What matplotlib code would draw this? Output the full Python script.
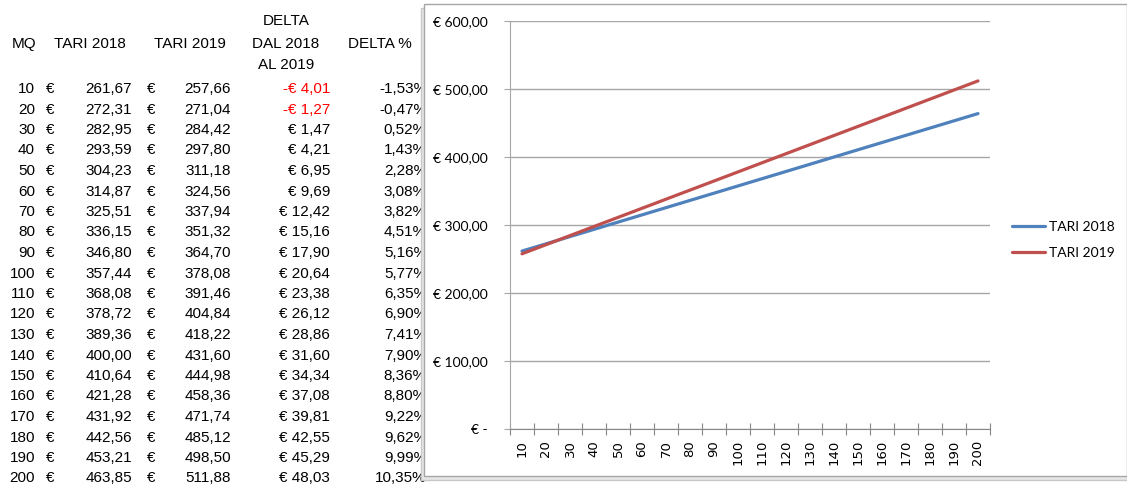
import matplotlib.pyplot as plt
from matplotlib.patches import Rectangle
import numpy as np

# Data
mq = [10, 20, 30, 40, 50, 60, 70, 80, 90, 100,
      110, 120, 130, 140, 150, 160, 170, 180, 190, 200]
tari_2018 = [261.67, 272.31, 282.95, 293.59, 304.23, 314.87, 325.51, 336.15, 346.80, 357.44,
             368.08, 378.72, 389.36, 400.00, 410.64, 421.28, 431.92, 442.56, 453.21, 463.85]
tari_2019 = [257.66, 271.04, 284.42, 297.80, 311.18, 324.56, 337.94, 351.32, 364.70, 378.08,
             391.46, 404.84, 418.22, 431.60, 444.98, 458.36, 471.74, 485.12, 498.50, 511.88]
delta = [-4.01, -1.27, 1.47, 4.21, 6.95, 9.69, 12.42, 15.16, 17.90, 20.64,
         23.38, 26.12, 28.86, 31.60, 34.34, 37.08, 39.81, 42.55, 45.29, 48.03]
delta_pct = [-1.53, -0.47, 0.52, 1.43, 2.28, 3.08, 3.82, 4.51, 5.16, 5.77,
             6.35, 6.90, 7.41, 7.90, 8.36, 8.80, 9.22, 9.62, 9.99, 10.35]
y_ticks = [0, 100, 200, 300, 400, 500, 600]

W, H = 1127, 484


def fx(px):
    return px / W


def fy(py):
    return 1 - py / H


def num(v):
    return f"{v:.2f}".replace('.', ',')


fig = plt.figure(figsize=(W / 100, H / 100), dpi=100)
fig.patch.set_facecolor('white')

# spreadsheet table on the left
tfont = dict(family=['Liberation Sans', 'DejaVu Sans'], fontsize=11, va='center', zorder=3)
fig.text(fx(286), fy(21), 'DELTA', ha='center', **tfont)
fig.text(fx(36), fy(44), 'MQ', ha='right', **tfont)
fig.text(fx(90), fy(44), 'TARI 2018', ha='center', **tfont)
fig.text(fx(190), fy(44), 'TARI 2019', ha='center', **tfont)
fig.text(fx(286), fy(44), 'DAL 2018', ha='center', **tfont)
fig.text(fx(380), fy(44), 'DELTA %', ha='center', **tfont)
fig.text(fx(286), fy(65), 'AL 2019', ha='center', **tfont)

row0, step = 89, 20.5
for i in range(len(mq)):
    y = fy(row0 + i * step)
    fig.text(fx(35), y, str(mq[i]), ha='right', **tfont)
    fig.text(fx(46), y, '€', ha='left', **tfont)
    fig.text(fx(132), y, num(tari_2018[i]), ha='right', **tfont)
    fig.text(fx(147), y, '€', ha='left', **tfont)
    fig.text(fx(231), y, num(tari_2019[i]), ha='right', **tfont)
    if delta[i] < 0:
        fig.text(fx(330), y, '-€ ' + num(-delta[i]), ha='right', color='red', **tfont)
    else:
        fig.text(fx(330), y, '€ ' + num(delta[i]), ha='right', **tfont)
    fig.text(fx(427), y, num(delta_pct[i]) + '%', ha='right', **tfont)

# chart box with a small shadow
fig.patches.append(Rectangle((fx(421), fy(480)), fx(706), (472) / H, transform=fig.transFigure,
                             facecolor='#E6E6E6', edgecolor='#C8C8C8', lw=1, zorder=4))
fig.patches.append(Rectangle((fx(424), fy(476)), fx(703), (472) / H, transform=fig.transFigure,
                             facecolor='white', edgecolor='#A6A6A6', lw=1, zorder=4))

# line chart
ax = fig.add_axes([fx(510), fy(429), fx(480), (429 - 21) / H])
ax.set_zorder(5)
ax.patch.set_visible(False)
x = np.arange(len(mq))
ax.plot(x, tari_2018, color='#4F81BD', lw=2.3, label='TARI 2018', solid_capstyle='round')
ax.plot(x, tari_2019, color='#C0504D', lw=2.3, label='TARI 2019', solid_capstyle='round')

ax.set_xlim(-0.5, len(mq) - 0.5)
ax.set_ylim(0, 600)
ax.set_yticks(y_ticks)
ax.set_yticklabels(['€ -' if v == 0 else '€ ' + num(v) for v in y_ticks],
                   family=['Lato', 'DejaVu Sans'], fontsize=10)
ax.grid(axis='y', color='#A6A6A6', lw=1)
ax.set_axisbelow(True)

ax.set_xticks(np.arange(-0.5, len(mq), 1.0))
ax.set_xticklabels([])
ax.set_xticks(x, minor=True)
ax.set_xticklabels([str(m) for m in mq], minor=True, rotation=90, fontsize=9.5,
                   family=['DejaVu Sans'])
ax.tick_params(axis='x', which='major', direction='inout', length=8, color='#888888')
ax.tick_params(axis='x', which='minor', length=0, pad=8)
ax.tick_params(axis='y', length=4, color='#A6A6A6', pad=12)

for s in ['top', 'right']:
    ax.spines[s].set_visible(False)
ax.spines['left'].set_color('#A6A6A6')
ax.spines['bottom'].set_color('#888888')

leg = ax.legend(loc='center left', bbox_to_anchor=(fx(999), fy(240)),
                bbox_transform=fig.transFigure, frameon=False,
                prop={'family': ['Lato', 'DejaVu Sans'], 'size': 10},
                handlelength=2.4, handletextpad=0.3, labelspacing=1.0)

plt.savefig('out.png', dpi=100)
